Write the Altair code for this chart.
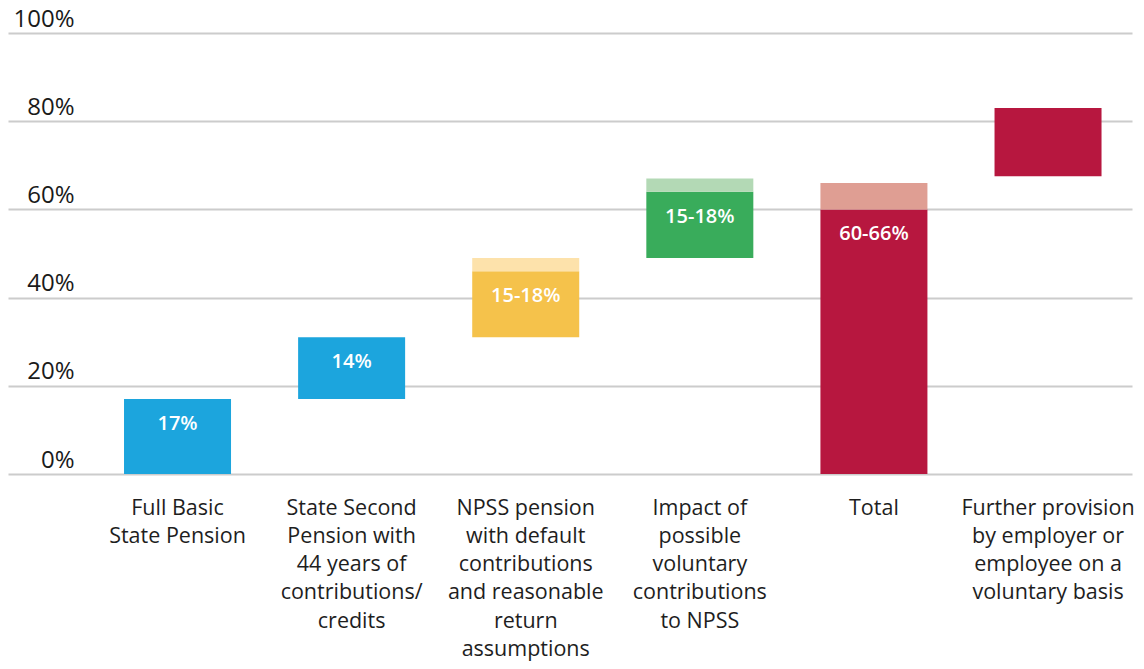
import altair as alt
import pandas as pd

# ---- data ----
categories = [
    "Full Basic|State Pension",
    "State Second|Pension with|44 years of|contributions/|credits",
    "NPSS pension|with default|contributions|and reasonable|return|assumptions",
    "Impact of|possible|voluntary|contributions|to NPSS",
    "Total",
    "Further provision|by employer or|employee on a|voluntary basis",
]
seg_start = [0, 17, 31, 49, 0, 67.5]
seg_end = [17, 31, 46, 64, 60, 83]
range_end = [None, None, 49, 67, 66, None]
bar_labels = ["17%", "14%", "15-18%", "15-18%", "60-66%", ""]
groups = ["State", "State", "NPSS", "Voluntary", "Total", "Further"]

group_domain = ["State", "NPSS", "NPSS range", "Voluntary", "Voluntary range",
                "Total", "Total range", "Further"]
group_colors = ["#1ca5dd", "#f5c24b", "#fde2ab", "#39ac5b", "#b3d9b5",
                "#b7173f", "#df9e93", "#b7173f"]

rows = []
for c, s, e, r, g in zip(categories, seg_start, seg_end, range_end, groups):
    rows.append({"cat": c, "start": s, "end": e, "group": g})
    if r is not None:
        rows.append({"cat": c, "start": e, "end": r, "group": g + " range"})
bars_df = pd.DataFrame(rows)

text_df = pd.DataFrame({"cat": categories, "end": seg_end, "label": bar_labels})
text_df = text_df[text_df["label"] != ""]

FONT = "Open Sans"

x_enc = alt.X(
    "cat:N",
    sort=categories,
    scale=alt.Scale(paddingInner=0.3854, paddingOuter=0.4207, align=0.792),
    axis=alt.Axis(
        title=None,
        labelExpr="split(datum.label, '|')",
        labelAngle=0,
        labelFont=FONT,
        labelFontSize=21.5,
        labelLineHeight=28.3,
        labelPadding=23,
        labelBaseline="top",
        labelColor="#1e1e1e",
        labelLimit=400,
        domain=False,
        ticks=False,
        tickSize=0,
    ),
)

bars = alt.Chart(bars_df).mark_bar(cornerRadius=0).encode(
    x=x_enc,
    y=alt.Y(
        "start:Q",
        scale=alt.Scale(domain=[0, 100], nice=False),
        axis=alt.Axis(
            title=None,
            values=[0, 20, 40, 60, 80, 100],
            labelExpr="datum.value + '%'",
            labelFont=FONT,
            labelFontSize=24,
            labelColor="#1a1a1a",
            labelAlign="right",
            labelBaseline="alphabetic",
            labelPadding=-66,
            labelOffset=-7,
            domain=False,
            ticks=False,
            tickSize=0,
            grid=True,
            gridColor="#cccccc",
            gridWidth=2,
        ),
    ),
    y2="end:Q",
    color=alt.Color("group:N", scale=alt.Scale(domain=group_domain, range=group_colors), legend=None),
)

texts = alt.Chart(text_df).mark_text(
    color="white", font=FONT, fontSize=20, fontWeight=600, baseline="middle", dy=25
).encode(
    x=alt.X("cat:N", sort=categories),
    y=alt.Y("end:Q"),
    text="label:N",
)

chart = (
    alt.layer(bars, texts)
    .properties(
        width=1124,
        height=441,
        autosize=alt.AutoSizeParams(type="none"),
        padding={"left": 0, "top": 25, "right": 4, "bottom": 187},
    )
    .configure_view(stroke=None)
)

chart.save("out.html", embed_options={"renderer": "svg", "actions": False})
